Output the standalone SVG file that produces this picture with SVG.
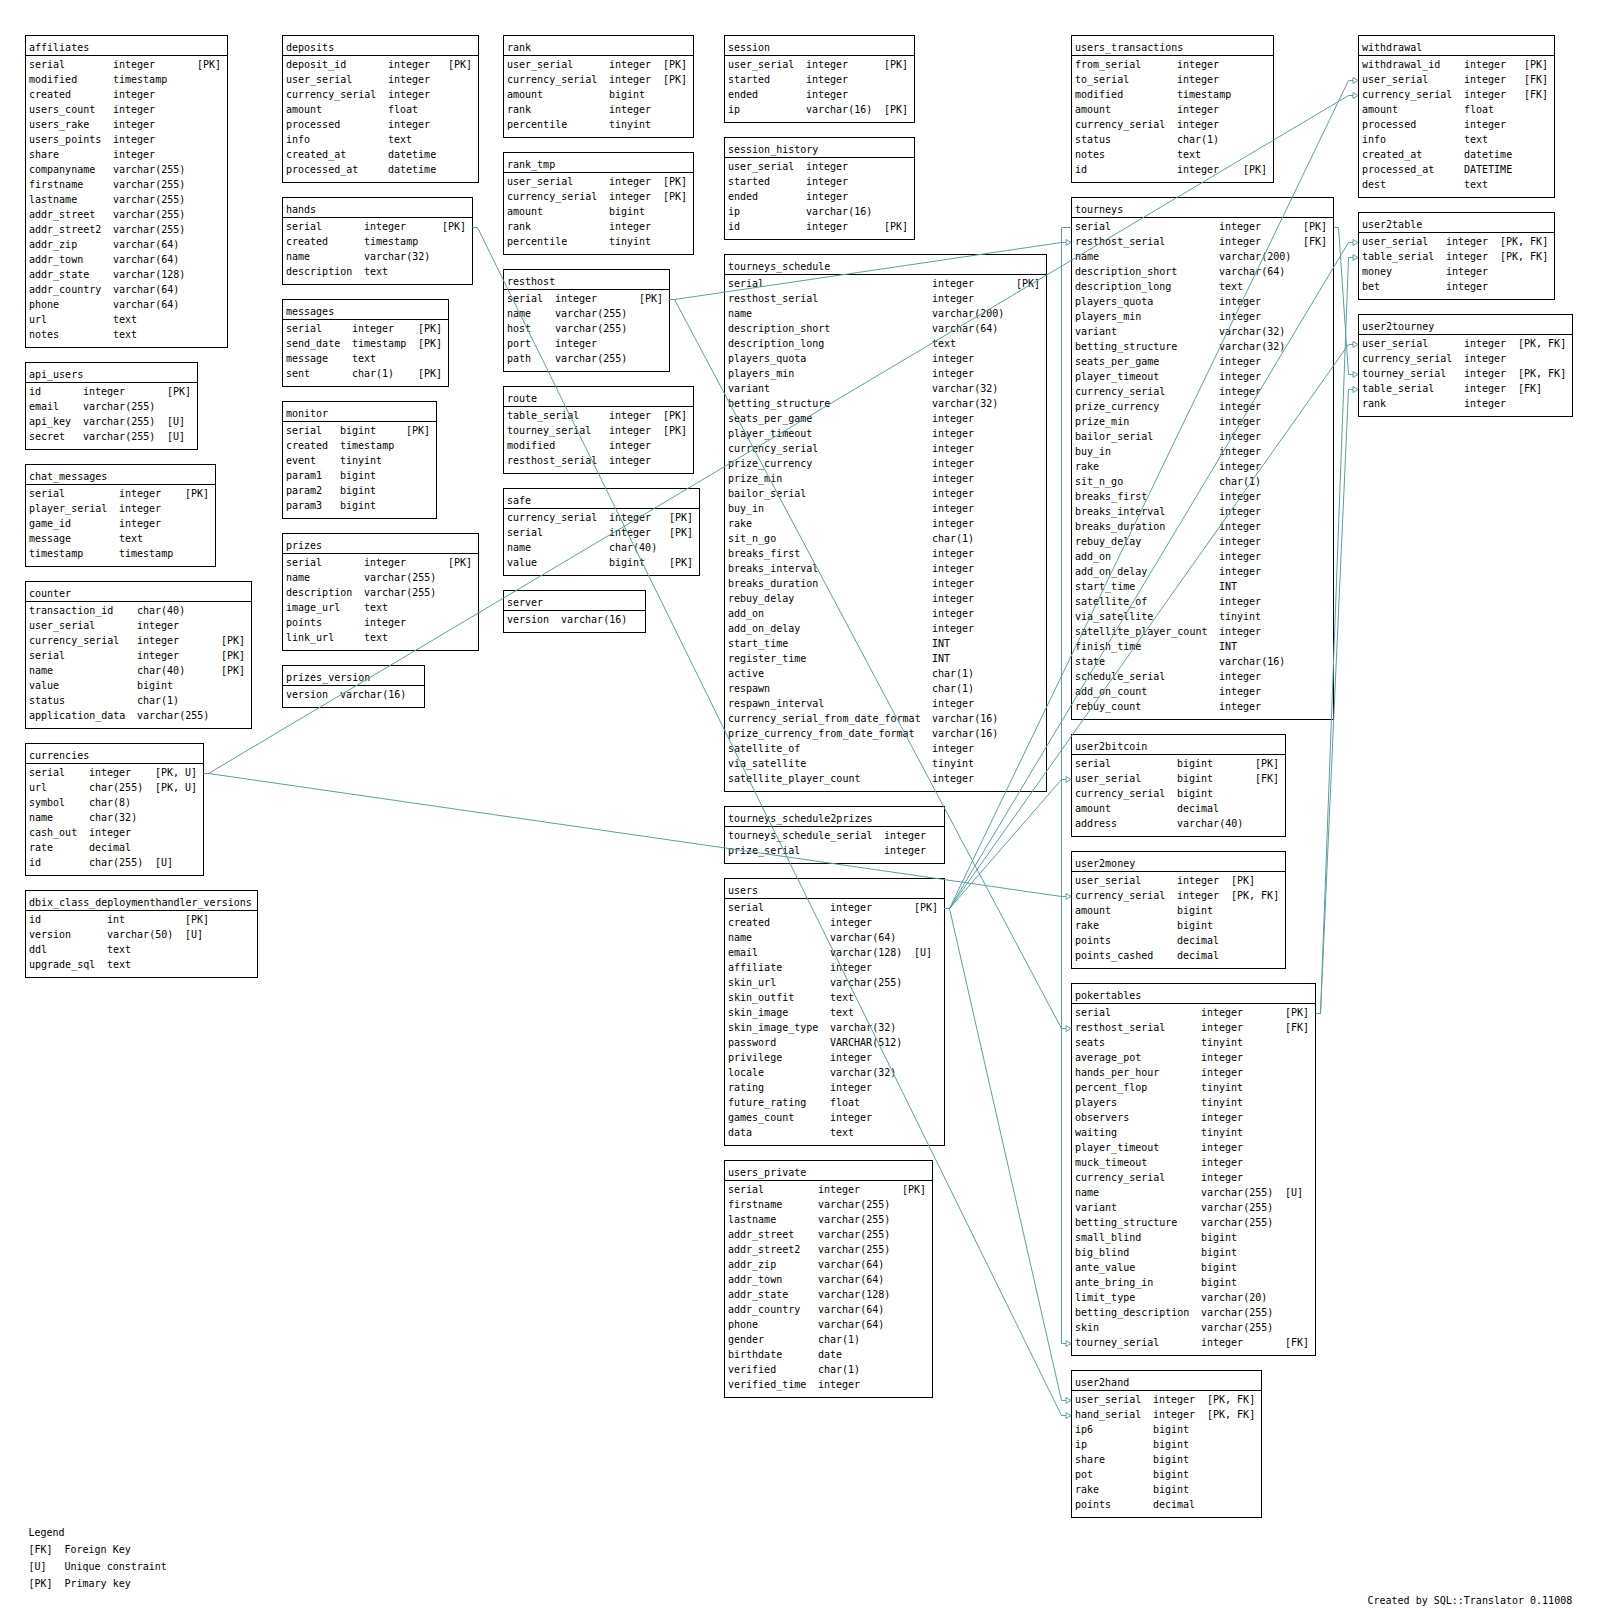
<svg xmlns="http://www.w3.org/2000/svg" width="1602" height="1610" viewBox="0 0 1602 1610">
<style>
.b{fill:none;stroke:#000;stroke-width:1;shape-rendering:crispEdges}
.s{stroke:#000;stroke-width:1;shape-rendering:crispEdges}
text{font-family:"DejaVu Sans Mono","Liberation Mono",monospace;font-size:10px;fill:#000}
.c{fill:none;stroke:#5f9ea0;stroke-width:1;marker-end:url(#arr)}
</style>
<defs>
<marker id="arr" markerUnits="userSpaceOnUse" markerWidth="8" markerHeight="8" refX="6" refY="4" orient="auto" overflow="visible">
<path d="M1,1 L6,4 L1,7 Z" fill="#fff" stroke="#5f9ea0" stroke-width="1"/>
</marker>
</defs>
<rect x="0" y="0" width="1602" height="1610" fill="#fff"/>

<g id="affiliates">
<rect class="b" x="25.5" y="35.5" width="202" height="312"/>
<line class="s" x1="25.5" y1="55.5" x2="227.5" y2="55.5"/>
<text x="29" y="51">affiliates</text>
<text y="68"><tspan x="29">serial</tspan><tspan x="113">integer</tspan><tspan x="197">[PK]</tspan></text>
<text y="83"><tspan x="29">modified</tspan><tspan x="113">timestamp</tspan></text>
<text y="98"><tspan x="29">created</tspan><tspan x="113">integer</tspan></text>
<text y="113"><tspan x="29">users_count</tspan><tspan x="113">integer</tspan></text>
<text y="128"><tspan x="29">users_rake</tspan><tspan x="113">integer</tspan></text>
<text y="143"><tspan x="29">users_points</tspan><tspan x="113">integer</tspan></text>
<text y="158"><tspan x="29">share</tspan><tspan x="113">integer</tspan></text>
<text y="173"><tspan x="29">companyname</tspan><tspan x="113">varchar(255)</tspan></text>
<text y="188"><tspan x="29">firstname</tspan><tspan x="113">varchar(255)</tspan></text>
<text y="203"><tspan x="29">lastname</tspan><tspan x="113">varchar(255)</tspan></text>
<text y="218"><tspan x="29">addr_street</tspan><tspan x="113">varchar(255)</tspan></text>
<text y="233"><tspan x="29">addr_street2</tspan><tspan x="113">varchar(255)</tspan></text>
<text y="248"><tspan x="29">addr_zip</tspan><tspan x="113">varchar(64)</tspan></text>
<text y="263"><tspan x="29">addr_town</tspan><tspan x="113">varchar(64)</tspan></text>
<text y="278"><tspan x="29">addr_state</tspan><tspan x="113">varchar(128)</tspan></text>
<text y="293"><tspan x="29">addr_country</tspan><tspan x="113">varchar(64)</tspan></text>
<text y="308"><tspan x="29">phone</tspan><tspan x="113">varchar(64)</tspan></text>
<text y="323"><tspan x="29">url</tspan><tspan x="113">text</tspan></text>
<text y="338"><tspan x="29">notes</tspan><tspan x="113">text</tspan></text>
</g>

<g id="api_users">
<rect class="b" x="25.5" y="362.5" width="172" height="87"/>
<line class="s" x1="25.5" y1="382.5" x2="197.5" y2="382.5"/>
<text x="29" y="378">api_users</text>
<text y="395"><tspan x="29">id</tspan><tspan x="83">integer</tspan><tspan x="167">[PK]</tspan></text>
<text y="410"><tspan x="29">email</tspan><tspan x="83">varchar(255)</tspan></text>
<text y="425"><tspan x="29">api_key</tspan><tspan x="83">varchar(255)</tspan><tspan x="167">[U]</tspan></text>
<text y="440"><tspan x="29">secret</tspan><tspan x="83">varchar(255)</tspan><tspan x="167">[U]</tspan></text>
</g>

<g id="chat_messages">
<rect class="b" x="25.5" y="464.5" width="190" height="102"/>
<line class="s" x1="25.5" y1="484.5" x2="215.5" y2="484.5"/>
<text x="29" y="480">chat_messages</text>
<text y="497"><tspan x="29">serial</tspan><tspan x="119">integer</tspan><tspan x="185">[PK]</tspan></text>
<text y="512"><tspan x="29">player_serial</tspan><tspan x="119">integer</tspan></text>
<text y="527"><tspan x="29">game_id</tspan><tspan x="119">integer</tspan></text>
<text y="542"><tspan x="29">message</tspan><tspan x="119">text</tspan></text>
<text y="557"><tspan x="29">timestamp</tspan><tspan x="119">timestamp</tspan></text>
</g>

<g id="counter">
<rect class="b" x="25.5" y="581.5" width="226" height="147"/>
<line class="s" x1="25.5" y1="601.5" x2="251.5" y2="601.5"/>
<text x="29" y="597">counter</text>
<text y="614"><tspan x="29">transaction_id</tspan><tspan x="137">char(40)</tspan></text>
<text y="629"><tspan x="29">user_serial</tspan><tspan x="137">integer</tspan></text>
<text y="644"><tspan x="29">currency_serial</tspan><tspan x="137">integer</tspan><tspan x="221">[PK]</tspan></text>
<text y="659"><tspan x="29">serial</tspan><tspan x="137">integer</tspan><tspan x="221">[PK]</tspan></text>
<text y="674"><tspan x="29">name</tspan><tspan x="137">char(40)</tspan><tspan x="221">[PK]</tspan></text>
<text y="689"><tspan x="29">value</tspan><tspan x="137">bigint</tspan></text>
<text y="704"><tspan x="29">status</tspan><tspan x="137">char(1)</tspan></text>
<text y="719"><tspan x="29">application_data</tspan><tspan x="137">varchar(255)</tspan></text>
</g>

<g id="currencies">
<rect class="b" x="25.5" y="743.5" width="178" height="132"/>
<line class="s" x1="25.5" y1="763.5" x2="203.5" y2="763.5"/>
<text x="29" y="759">currencies</text>
<text y="776"><tspan x="29">serial</tspan><tspan x="89">integer</tspan><tspan x="155">[PK, U]</tspan></text>
<text y="791"><tspan x="29">url</tspan><tspan x="89">char(255)</tspan><tspan x="155">[PK, U]</tspan></text>
<text y="806"><tspan x="29">symbol</tspan><tspan x="89">char(8)</tspan></text>
<text y="821"><tspan x="29">name</tspan><tspan x="89">char(32)</tspan></text>
<text y="836"><tspan x="29">cash_out</tspan><tspan x="89">integer</tspan></text>
<text y="851"><tspan x="29">rate</tspan><tspan x="89">decimal</tspan></text>
<text y="866"><tspan x="29">id</tspan><tspan x="89">char(255)</tspan><tspan x="155">[U]</tspan></text>
</g>

<g id="dbix_class_deploymenthandler_versions">
<rect class="b" x="25.5" y="890.5" width="232" height="87"/>
<line class="s" x1="25.5" y1="910.5" x2="257.5" y2="910.5"/>
<text x="29" y="906">dbix_class_deploymenthandler_versions</text>
<text y="923"><tspan x="29">id</tspan><tspan x="107">int</tspan><tspan x="185">[PK]</tspan></text>
<text y="938"><tspan x="29">version</tspan><tspan x="107">varchar(50)</tspan><tspan x="185">[U]</tspan></text>
<text y="953"><tspan x="29">ddl</tspan><tspan x="107">text</tspan></text>
<text y="968"><tspan x="29">upgrade_sql</tspan><tspan x="107">text</tspan></text>
</g>

<g id="deposits">
<rect class="b" x="282.5" y="35.5" width="196" height="147"/>
<line class="s" x1="282.5" y1="55.5" x2="478.5" y2="55.5"/>
<text x="286" y="51">deposits</text>
<text y="68"><tspan x="286">deposit_id</tspan><tspan x="388">integer</tspan><tspan x="448">[PK]</tspan></text>
<text y="83"><tspan x="286">user_serial</tspan><tspan x="388">integer</tspan></text>
<text y="98"><tspan x="286">currency_serial</tspan><tspan x="388">integer</tspan></text>
<text y="113"><tspan x="286">amount</tspan><tspan x="388">float</tspan></text>
<text y="128"><tspan x="286">processed</tspan><tspan x="388">integer</tspan></text>
<text y="143"><tspan x="286">info</tspan><tspan x="388">text</tspan></text>
<text y="158"><tspan x="286">created_at</tspan><tspan x="388">datetime</tspan></text>
<text y="173"><tspan x="286">processed_at</tspan><tspan x="388">datetime</tspan></text>
</g>

<g id="hands">
<rect class="b" x="282.5" y="197.5" width="190" height="87"/>
<line class="s" x1="282.5" y1="217.5" x2="472.5" y2="217.5"/>
<text x="286" y="213">hands</text>
<text y="230"><tspan x="286">serial</tspan><tspan x="364">integer</tspan><tspan x="442">[PK]</tspan></text>
<text y="245"><tspan x="286">created</tspan><tspan x="364">timestamp</tspan></text>
<text y="260"><tspan x="286">name</tspan><tspan x="364">varchar(32)</tspan></text>
<text y="275"><tspan x="286">description</tspan><tspan x="364">text</tspan></text>
</g>

<g id="messages">
<rect class="b" x="282.5" y="299.5" width="166" height="87"/>
<line class="s" x1="282.5" y1="319.5" x2="448.5" y2="319.5"/>
<text x="286" y="315">messages</text>
<text y="332"><tspan x="286">serial</tspan><tspan x="352">integer</tspan><tspan x="418">[PK]</tspan></text>
<text y="347"><tspan x="286">send_date</tspan><tspan x="352">timestamp</tspan><tspan x="418">[PK]</tspan></text>
<text y="362"><tspan x="286">message</tspan><tspan x="352">text</tspan></text>
<text y="377"><tspan x="286">sent</tspan><tspan x="352">char(1)</tspan><tspan x="418">[PK]</tspan></text>
</g>

<g id="monitor">
<rect class="b" x="282.5" y="401.5" width="154" height="117"/>
<line class="s" x1="282.5" y1="421.5" x2="436.5" y2="421.5"/>
<text x="286" y="417">monitor</text>
<text y="434"><tspan x="286">serial</tspan><tspan x="340">bigint</tspan><tspan x="406">[PK]</tspan></text>
<text y="449"><tspan x="286">created</tspan><tspan x="340">timestamp</tspan></text>
<text y="464"><tspan x="286">event</tspan><tspan x="340">tinyint</tspan></text>
<text y="479"><tspan x="286">param1</tspan><tspan x="340">bigint</tspan></text>
<text y="494"><tspan x="286">param2</tspan><tspan x="340">bigint</tspan></text>
<text y="509"><tspan x="286">param3</tspan><tspan x="340">bigint</tspan></text>
</g>

<g id="prizes">
<rect class="b" x="282.5" y="533.5" width="196" height="117"/>
<line class="s" x1="282.5" y1="553.5" x2="478.5" y2="553.5"/>
<text x="286" y="549">prizes</text>
<text y="566"><tspan x="286">serial</tspan><tspan x="364">integer</tspan><tspan x="448">[PK]</tspan></text>
<text y="581"><tspan x="286">name</tspan><tspan x="364">varchar(255)</tspan></text>
<text y="596"><tspan x="286">description</tspan><tspan x="364">varchar(255)</tspan></text>
<text y="611"><tspan x="286">image_url</tspan><tspan x="364">text</tspan></text>
<text y="626"><tspan x="286">points</tspan><tspan x="364">integer</tspan></text>
<text y="641"><tspan x="286">link_url</tspan><tspan x="364">text</tspan></text>
</g>

<g id="prizes_version">
<rect class="b" x="282.5" y="665.5" width="142" height="42"/>
<line class="s" x1="282.5" y1="685.5" x2="424.5" y2="685.5"/>
<text x="286" y="681">prizes_version</text>
<text y="698"><tspan x="286">version</tspan><tspan x="340">varchar(16)</tspan></text>
</g>

<g id="rank">
<rect class="b" x="503.5" y="35.5" width="190" height="102"/>
<line class="s" x1="503.5" y1="55.5" x2="693.5" y2="55.5"/>
<text x="507" y="51">rank</text>
<text y="68"><tspan x="507">user_serial</tspan><tspan x="609">integer</tspan><tspan x="663">[PK]</tspan></text>
<text y="83"><tspan x="507">currency_serial</tspan><tspan x="609">integer</tspan><tspan x="663">[PK]</tspan></text>
<text y="98"><tspan x="507">amount</tspan><tspan x="609">bigint</tspan></text>
<text y="113"><tspan x="507">rank</tspan><tspan x="609">integer</tspan></text>
<text y="128"><tspan x="507">percentile</tspan><tspan x="609">tinyint</tspan></text>
</g>

<g id="rank_tmp">
<rect class="b" x="503.5" y="152.5" width="190" height="102"/>
<line class="s" x1="503.5" y1="172.5" x2="693.5" y2="172.5"/>
<text x="507" y="168">rank_tmp</text>
<text y="185"><tspan x="507">user_serial</tspan><tspan x="609">integer</tspan><tspan x="663">[PK]</tspan></text>
<text y="200"><tspan x="507">currency_serial</tspan><tspan x="609">integer</tspan><tspan x="663">[PK]</tspan></text>
<text y="215"><tspan x="507">amount</tspan><tspan x="609">bigint</tspan></text>
<text y="230"><tspan x="507">rank</tspan><tspan x="609">integer</tspan></text>
<text y="245"><tspan x="507">percentile</tspan><tspan x="609">tinyint</tspan></text>
</g>

<g id="resthost">
<rect class="b" x="503.5" y="269.5" width="166" height="102"/>
<line class="s" x1="503.5" y1="289.5" x2="669.5" y2="289.5"/>
<text x="507" y="285">resthost</text>
<text y="302"><tspan x="507">serial</tspan><tspan x="555">integer</tspan><tspan x="639">[PK]</tspan></text>
<text y="317"><tspan x="507">name</tspan><tspan x="555">varchar(255)</tspan></text>
<text y="332"><tspan x="507">host</tspan><tspan x="555">varchar(255)</tspan></text>
<text y="347"><tspan x="507">port</tspan><tspan x="555">integer</tspan></text>
<text y="362"><tspan x="507">path</tspan><tspan x="555">varchar(255)</tspan></text>
</g>

<g id="route">
<rect class="b" x="503.5" y="386.5" width="190" height="87"/>
<line class="s" x1="503.5" y1="406.5" x2="693.5" y2="406.5"/>
<text x="507" y="402">route</text>
<text y="419"><tspan x="507">table_serial</tspan><tspan x="609">integer</tspan><tspan x="663">[PK]</tspan></text>
<text y="434"><tspan x="507">tourney_serial</tspan><tspan x="609">integer</tspan><tspan x="663">[PK]</tspan></text>
<text y="449"><tspan x="507">modified</tspan><tspan x="609">integer</tspan></text>
<text y="464"><tspan x="507">resthost_serial</tspan><tspan x="609">integer</tspan></text>
</g>

<g id="safe">
<rect class="b" x="503.5" y="488.5" width="196" height="87"/>
<line class="s" x1="503.5" y1="508.5" x2="699.5" y2="508.5"/>
<text x="507" y="504">safe</text>
<text y="521"><tspan x="507">currency_serial</tspan><tspan x="609">integer</tspan><tspan x="669">[PK]</tspan></text>
<text y="536"><tspan x="507">serial</tspan><tspan x="609">integer</tspan><tspan x="669">[PK]</tspan></text>
<text y="551"><tspan x="507">name</tspan><tspan x="609">char(40)</tspan></text>
<text y="566"><tspan x="507">value</tspan><tspan x="609">bigint</tspan><tspan x="669">[PK]</tspan></text>
</g>

<g id="server">
<rect class="b" x="503.5" y="590.5" width="142" height="42"/>
<line class="s" x1="503.5" y1="610.5" x2="645.5" y2="610.5"/>
<text x="507" y="606">server</text>
<text y="623"><tspan x="507">version</tspan><tspan x="561">varchar(16)</tspan></text>
</g>

<g id="session">
<rect class="b" x="724.5" y="35.5" width="190" height="87"/>
<line class="s" x1="724.5" y1="55.5" x2="914.5" y2="55.5"/>
<text x="728" y="51">session</text>
<text y="68"><tspan x="728">user_serial</tspan><tspan x="806">integer</tspan><tspan x="884">[PK]</tspan></text>
<text y="83"><tspan x="728">started</tspan><tspan x="806">integer</tspan></text>
<text y="98"><tspan x="728">ended</tspan><tspan x="806">integer</tspan></text>
<text y="113"><tspan x="728">ip</tspan><tspan x="806">varchar(16)</tspan><tspan x="884">[PK]</tspan></text>
</g>

<g id="session_history">
<rect class="b" x="724.5" y="137.5" width="190" height="102"/>
<line class="s" x1="724.5" y1="157.5" x2="914.5" y2="157.5"/>
<text x="728" y="153">session_history</text>
<text y="170"><tspan x="728">user_serial</tspan><tspan x="806">integer</tspan></text>
<text y="185"><tspan x="728">started</tspan><tspan x="806">integer</tspan></text>
<text y="200"><tspan x="728">ended</tspan><tspan x="806">integer</tspan></text>
<text y="215"><tspan x="728">ip</tspan><tspan x="806">varchar(16)</tspan></text>
<text y="230"><tspan x="728">id</tspan><tspan x="806">integer</tspan><tspan x="884">[PK]</tspan></text>
</g>

<g id="tourneys_schedule">
<rect class="b" x="724.5" y="254.5" width="322" height="537"/>
<line class="s" x1="724.5" y1="274.5" x2="1046.5" y2="274.5"/>
<text x="728" y="270">tourneys_schedule</text>
<text y="287"><tspan x="728">serial</tspan><tspan x="932">integer</tspan><tspan x="1016">[PK]</tspan></text>
<text y="302"><tspan x="728">resthost_serial</tspan><tspan x="932">integer</tspan></text>
<text y="317"><tspan x="728">name</tspan><tspan x="932">varchar(200)</tspan></text>
<text y="332"><tspan x="728">description_short</tspan><tspan x="932">varchar(64)</tspan></text>
<text y="347"><tspan x="728">description_long</tspan><tspan x="932">text</tspan></text>
<text y="362"><tspan x="728">players_quota</tspan><tspan x="932">integer</tspan></text>
<text y="377"><tspan x="728">players_min</tspan><tspan x="932">integer</tspan></text>
<text y="392"><tspan x="728">variant</tspan><tspan x="932">varchar(32)</tspan></text>
<text y="407"><tspan x="728">betting_structure</tspan><tspan x="932">varchar(32)</tspan></text>
<text y="422"><tspan x="728">seats_per_game</tspan><tspan x="932">integer</tspan></text>
<text y="437"><tspan x="728">player_timeout</tspan><tspan x="932">integer</tspan></text>
<text y="452"><tspan x="728">currency_serial</tspan><tspan x="932">integer</tspan></text>
<text y="467"><tspan x="728">prize_currency</tspan><tspan x="932">integer</tspan></text>
<text y="482"><tspan x="728">prize_min</tspan><tspan x="932">integer</tspan></text>
<text y="497"><tspan x="728">bailor_serial</tspan><tspan x="932">integer</tspan></text>
<text y="512"><tspan x="728">buy_in</tspan><tspan x="932">integer</tspan></text>
<text y="527"><tspan x="728">rake</tspan><tspan x="932">integer</tspan></text>
<text y="542"><tspan x="728">sit_n_go</tspan><tspan x="932">char(1)</tspan></text>
<text y="557"><tspan x="728">breaks_first</tspan><tspan x="932">integer</tspan></text>
<text y="572"><tspan x="728">breaks_interval</tspan><tspan x="932">integer</tspan></text>
<text y="587"><tspan x="728">breaks_duration</tspan><tspan x="932">integer</tspan></text>
<text y="602"><tspan x="728">rebuy_delay</tspan><tspan x="932">integer</tspan></text>
<text y="617"><tspan x="728">add_on</tspan><tspan x="932">integer</tspan></text>
<text y="632"><tspan x="728">add_on_delay</tspan><tspan x="932">integer</tspan></text>
<text y="647"><tspan x="728">start_time</tspan><tspan x="932">INT</tspan></text>
<text y="662"><tspan x="728">register_time</tspan><tspan x="932">INT</tspan></text>
<text y="677"><tspan x="728">active</tspan><tspan x="932">char(1)</tspan></text>
<text y="692"><tspan x="728">respawn</tspan><tspan x="932">char(1)</tspan></text>
<text y="707"><tspan x="728">respawn_interval</tspan><tspan x="932">integer</tspan></text>
<text y="722"><tspan x="728">currency_serial_from_date_format</tspan><tspan x="932">varchar(16)</tspan></text>
<text y="737"><tspan x="728">prize_currency_from_date_format</tspan><tspan x="932">varchar(16)</tspan></text>
<text y="752"><tspan x="728">satellite_of</tspan><tspan x="932">integer</tspan></text>
<text y="767"><tspan x="728">via_satellite</tspan><tspan x="932">tinyint</tspan></text>
<text y="782"><tspan x="728">satellite_player_count</tspan><tspan x="932">integer</tspan></text>
</g>

<g id="tourneys_schedule2prizes">
<rect class="b" x="724.5" y="806.5" width="220" height="57"/>
<line class="s" x1="724.5" y1="826.5" x2="944.5" y2="826.5"/>
<text x="728" y="822">tourneys_schedule2prizes</text>
<text y="839"><tspan x="728">tourneys_schedule_serial</tspan><tspan x="884">integer</tspan></text>
<text y="854"><tspan x="728">prize_serial</tspan><tspan x="884">integer</tspan></text>
</g>

<g id="users">
<rect class="b" x="724.5" y="878.5" width="220" height="267"/>
<line class="s" x1="724.5" y1="898.5" x2="944.5" y2="898.5"/>
<text x="728" y="894">users</text>
<text y="911"><tspan x="728">serial</tspan><tspan x="830">integer</tspan><tspan x="914">[PK]</tspan></text>
<text y="926"><tspan x="728">created</tspan><tspan x="830">integer</tspan></text>
<text y="941"><tspan x="728">name</tspan><tspan x="830">varchar(64)</tspan></text>
<text y="956"><tspan x="728">email</tspan><tspan x="830">varchar(128)</tspan><tspan x="914">[U]</tspan></text>
<text y="971"><tspan x="728">affiliate</tspan><tspan x="830">integer</tspan></text>
<text y="986"><tspan x="728">skin_url</tspan><tspan x="830">varchar(255)</tspan></text>
<text y="1001"><tspan x="728">skin_outfit</tspan><tspan x="830">text</tspan></text>
<text y="1016"><tspan x="728">skin_image</tspan><tspan x="830">text</tspan></text>
<text y="1031"><tspan x="728">skin_image_type</tspan><tspan x="830">varchar(32)</tspan></text>
<text y="1046"><tspan x="728">password</tspan><tspan x="830">VARCHAR(512)</tspan></text>
<text y="1061"><tspan x="728">privilege</tspan><tspan x="830">integer</tspan></text>
<text y="1076"><tspan x="728">locale</tspan><tspan x="830">varchar(32)</tspan></text>
<text y="1091"><tspan x="728">rating</tspan><tspan x="830">integer</tspan></text>
<text y="1106"><tspan x="728">future_rating</tspan><tspan x="830">float</tspan></text>
<text y="1121"><tspan x="728">games_count</tspan><tspan x="830">integer</tspan></text>
<text y="1136"><tspan x="728">data</tspan><tspan x="830">text</tspan></text>
</g>

<g id="users_private">
<rect class="b" x="724.5" y="1160.5" width="208" height="237"/>
<line class="s" x1="724.5" y1="1180.5" x2="932.5" y2="1180.5"/>
<text x="728" y="1176">users_private</text>
<text y="1193"><tspan x="728">serial</tspan><tspan x="818">integer</tspan><tspan x="902">[PK]</tspan></text>
<text y="1208"><tspan x="728">firstname</tspan><tspan x="818">varchar(255)</tspan></text>
<text y="1223"><tspan x="728">lastname</tspan><tspan x="818">varchar(255)</tspan></text>
<text y="1238"><tspan x="728">addr_street</tspan><tspan x="818">varchar(255)</tspan></text>
<text y="1253"><tspan x="728">addr_street2</tspan><tspan x="818">varchar(255)</tspan></text>
<text y="1268"><tspan x="728">addr_zip</tspan><tspan x="818">varchar(64)</tspan></text>
<text y="1283"><tspan x="728">addr_town</tspan><tspan x="818">varchar(64)</tspan></text>
<text y="1298"><tspan x="728">addr_state</tspan><tspan x="818">varchar(128)</tspan></text>
<text y="1313"><tspan x="728">addr_country</tspan><tspan x="818">varchar(64)</tspan></text>
<text y="1328"><tspan x="728">phone</tspan><tspan x="818">varchar(64)</tspan></text>
<text y="1343"><tspan x="728">gender</tspan><tspan x="818">char(1)</tspan></text>
<text y="1358"><tspan x="728">birthdate</tspan><tspan x="818">date</tspan></text>
<text y="1373"><tspan x="728">verified</tspan><tspan x="818">char(1)</tspan></text>
<text y="1388"><tspan x="728">verified_time</tspan><tspan x="818">integer</tspan></text>
</g>

<g id="users_transactions">
<rect class="b" x="1071.5" y="35.5" width="202" height="147"/>
<line class="s" x1="1071.5" y1="55.5" x2="1273.5" y2="55.5"/>
<text x="1075" y="51">users_transactions</text>
<text y="68"><tspan x="1075">from_serial</tspan><tspan x="1177">integer</tspan></text>
<text y="83"><tspan x="1075">to_serial</tspan><tspan x="1177">integer</tspan></text>
<text y="98"><tspan x="1075">modified</tspan><tspan x="1177">timestamp</tspan></text>
<text y="113"><tspan x="1075">amount</tspan><tspan x="1177">integer</tspan></text>
<text y="128"><tspan x="1075">currency_serial</tspan><tspan x="1177">integer</tspan></text>
<text y="143"><tspan x="1075">status</tspan><tspan x="1177">char(1)</tspan></text>
<text y="158"><tspan x="1075">notes</tspan><tspan x="1177">text</tspan></text>
<text y="173"><tspan x="1075">id</tspan><tspan x="1177">integer</tspan><tspan x="1243">[PK]</tspan></text>
</g>

<g id="tourneys">
<rect class="b" x="1071.5" y="197.5" width="262" height="522"/>
<line class="s" x1="1071.5" y1="217.5" x2="1333.5" y2="217.5"/>
<text x="1075" y="213">tourneys</text>
<text y="230"><tspan x="1075">serial</tspan><tspan x="1219">integer</tspan><tspan x="1303">[PK]</tspan></text>
<text y="245"><tspan x="1075">resthost_serial</tspan><tspan x="1219">integer</tspan><tspan x="1303">[FK]</tspan></text>
<text y="260"><tspan x="1075">name</tspan><tspan x="1219">varchar(200)</tspan></text>
<text y="275"><tspan x="1075">description_short</tspan><tspan x="1219">varchar(64)</tspan></text>
<text y="290"><tspan x="1075">description_long</tspan><tspan x="1219">text</tspan></text>
<text y="305"><tspan x="1075">players_quota</tspan><tspan x="1219">integer</tspan></text>
<text y="320"><tspan x="1075">players_min</tspan><tspan x="1219">integer</tspan></text>
<text y="335"><tspan x="1075">variant</tspan><tspan x="1219">varchar(32)</tspan></text>
<text y="350"><tspan x="1075">betting_structure</tspan><tspan x="1219">varchar(32)</tspan></text>
<text y="365"><tspan x="1075">seats_per_game</tspan><tspan x="1219">integer</tspan></text>
<text y="380"><tspan x="1075">player_timeout</tspan><tspan x="1219">integer</tspan></text>
<text y="395"><tspan x="1075">currency_serial</tspan><tspan x="1219">integer</tspan></text>
<text y="410"><tspan x="1075">prize_currency</tspan><tspan x="1219">integer</tspan></text>
<text y="425"><tspan x="1075">prize_min</tspan><tspan x="1219">integer</tspan></text>
<text y="440"><tspan x="1075">bailor_serial</tspan><tspan x="1219">integer</tspan></text>
<text y="455"><tspan x="1075">buy_in</tspan><tspan x="1219">integer</tspan></text>
<text y="470"><tspan x="1075">rake</tspan><tspan x="1219">integer</tspan></text>
<text y="485"><tspan x="1075">sit_n_go</tspan><tspan x="1219">char(1)</tspan></text>
<text y="500"><tspan x="1075">breaks_first</tspan><tspan x="1219">integer</tspan></text>
<text y="515"><tspan x="1075">breaks_interval</tspan><tspan x="1219">integer</tspan></text>
<text y="530"><tspan x="1075">breaks_duration</tspan><tspan x="1219">integer</tspan></text>
<text y="545"><tspan x="1075">rebuy_delay</tspan><tspan x="1219">integer</tspan></text>
<text y="560"><tspan x="1075">add_on</tspan><tspan x="1219">integer</tspan></text>
<text y="575"><tspan x="1075">add_on_delay</tspan><tspan x="1219">integer</tspan></text>
<text y="590"><tspan x="1075">start_time</tspan><tspan x="1219">INT</tspan></text>
<text y="605"><tspan x="1075">satellite_of</tspan><tspan x="1219">integer</tspan></text>
<text y="620"><tspan x="1075">via_satellite</tspan><tspan x="1219">tinyint</tspan></text>
<text y="635"><tspan x="1075">satellite_player_count</tspan><tspan x="1219">integer</tspan></text>
<text y="650"><tspan x="1075">finish_time</tspan><tspan x="1219">INT</tspan></text>
<text y="665"><tspan x="1075">state</tspan><tspan x="1219">varchar(16)</tspan></text>
<text y="680"><tspan x="1075">schedule_serial</tspan><tspan x="1219">integer</tspan></text>
<text y="695"><tspan x="1075">add_on_count</tspan><tspan x="1219">integer</tspan></text>
<text y="710"><tspan x="1075">rebuy_count</tspan><tspan x="1219">integer</tspan></text>
</g>

<g id="user2bitcoin">
<rect class="b" x="1071.5" y="734.5" width="214" height="102"/>
<line class="s" x1="1071.5" y1="754.5" x2="1285.5" y2="754.5"/>
<text x="1075" y="750">user2bitcoin</text>
<text y="767"><tspan x="1075">serial</tspan><tspan x="1177">bigint</tspan><tspan x="1255">[PK]</tspan></text>
<text y="782"><tspan x="1075">user_serial</tspan><tspan x="1177">bigint</tspan><tspan x="1255">[FK]</tspan></text>
<text y="797"><tspan x="1075">currency_serial</tspan><tspan x="1177">bigint</tspan></text>
<text y="812"><tspan x="1075">amount</tspan><tspan x="1177">decimal</tspan></text>
<text y="827"><tspan x="1075">address</tspan><tspan x="1177">varchar(40)</tspan></text>
</g>

<g id="user2money">
<rect class="b" x="1071.5" y="851.5" width="214" height="117"/>
<line class="s" x1="1071.5" y1="871.5" x2="1285.5" y2="871.5"/>
<text x="1075" y="867">user2money</text>
<text y="884"><tspan x="1075">user_serial</tspan><tspan x="1177">integer</tspan><tspan x="1231">[PK]</tspan></text>
<text y="899"><tspan x="1075">currency_serial</tspan><tspan x="1177">integer</tspan><tspan x="1231">[PK, FK]</tspan></text>
<text y="914"><tspan x="1075">amount</tspan><tspan x="1177">bigint</tspan></text>
<text y="929"><tspan x="1075">rake</tspan><tspan x="1177">bigint</tspan></text>
<text y="944"><tspan x="1075">points</tspan><tspan x="1177">decimal</tspan></text>
<text y="959"><tspan x="1075">points_cashed</tspan><tspan x="1177">decimal</tspan></text>
</g>

<g id="pokertables">
<rect class="b" x="1071.5" y="983.5" width="244" height="372"/>
<line class="s" x1="1071.5" y1="1003.5" x2="1315.5" y2="1003.5"/>
<text x="1075" y="999">pokertables</text>
<text y="1016"><tspan x="1075">serial</tspan><tspan x="1201">integer</tspan><tspan x="1285">[PK]</tspan></text>
<text y="1031"><tspan x="1075">resthost_serial</tspan><tspan x="1201">integer</tspan><tspan x="1285">[FK]</tspan></text>
<text y="1046"><tspan x="1075">seats</tspan><tspan x="1201">tinyint</tspan></text>
<text y="1061"><tspan x="1075">average_pot</tspan><tspan x="1201">integer</tspan></text>
<text y="1076"><tspan x="1075">hands_per_hour</tspan><tspan x="1201">integer</tspan></text>
<text y="1091"><tspan x="1075">percent_flop</tspan><tspan x="1201">tinyint</tspan></text>
<text y="1106"><tspan x="1075">players</tspan><tspan x="1201">tinyint</tspan></text>
<text y="1121"><tspan x="1075">observers</tspan><tspan x="1201">integer</tspan></text>
<text y="1136"><tspan x="1075">waiting</tspan><tspan x="1201">tinyint</tspan></text>
<text y="1151"><tspan x="1075">player_timeout</tspan><tspan x="1201">integer</tspan></text>
<text y="1166"><tspan x="1075">muck_timeout</tspan><tspan x="1201">integer</tspan></text>
<text y="1181"><tspan x="1075">currency_serial</tspan><tspan x="1201">integer</tspan></text>
<text y="1196"><tspan x="1075">name</tspan><tspan x="1201">varchar(255)</tspan><tspan x="1285">[U]</tspan></text>
<text y="1211"><tspan x="1075">variant</tspan><tspan x="1201">varchar(255)</tspan></text>
<text y="1226"><tspan x="1075">betting_structure</tspan><tspan x="1201">varchar(255)</tspan></text>
<text y="1241"><tspan x="1075">small_blind</tspan><tspan x="1201">bigint</tspan></text>
<text y="1256"><tspan x="1075">big_blind</tspan><tspan x="1201">bigint</tspan></text>
<text y="1271"><tspan x="1075">ante_value</tspan><tspan x="1201">bigint</tspan></text>
<text y="1286"><tspan x="1075">ante_bring_in</tspan><tspan x="1201">bigint</tspan></text>
<text y="1301"><tspan x="1075">limit_type</tspan><tspan x="1201">varchar(20)</tspan></text>
<text y="1316"><tspan x="1075">betting_description</tspan><tspan x="1201">varchar(255)</tspan></text>
<text y="1331"><tspan x="1075">skin</tspan><tspan x="1201">varchar(255)</tspan></text>
<text y="1346"><tspan x="1075">tourney_serial</tspan><tspan x="1201">integer</tspan><tspan x="1285">[FK]</tspan></text>
</g>

<g id="user2hand">
<rect class="b" x="1071.5" y="1370.5" width="190" height="147"/>
<line class="s" x1="1071.5" y1="1390.5" x2="1261.5" y2="1390.5"/>
<text x="1075" y="1386">user2hand</text>
<text y="1403"><tspan x="1075">user_serial</tspan><tspan x="1153">integer</tspan><tspan x="1207">[PK, FK]</tspan></text>
<text y="1418"><tspan x="1075">hand_serial</tspan><tspan x="1153">integer</tspan><tspan x="1207">[PK, FK]</tspan></text>
<text y="1433"><tspan x="1075">ip6</tspan><tspan x="1153">bigint</tspan></text>
<text y="1448"><tspan x="1075">ip</tspan><tspan x="1153">bigint</tspan></text>
<text y="1463"><tspan x="1075">share</tspan><tspan x="1153">bigint</tspan></text>
<text y="1478"><tspan x="1075">pot</tspan><tspan x="1153">bigint</tspan></text>
<text y="1493"><tspan x="1075">rake</tspan><tspan x="1153">bigint</tspan></text>
<text y="1508"><tspan x="1075">points</tspan><tspan x="1153">decimal</tspan></text>
</g>

<g id="withdrawal">
<rect class="b" x="1358.5" y="35.5" width="196" height="162"/>
<line class="s" x1="1358.5" y1="55.5" x2="1554.5" y2="55.5"/>
<text x="1362" y="51">withdrawal</text>
<text y="68"><tspan x="1362">withdrawal_id</tspan><tspan x="1464">integer</tspan><tspan x="1524">[PK]</tspan></text>
<text y="83"><tspan x="1362">user_serial</tspan><tspan x="1464">integer</tspan><tspan x="1524">[FK]</tspan></text>
<text y="98"><tspan x="1362">currency_serial</tspan><tspan x="1464">integer</tspan><tspan x="1524">[FK]</tspan></text>
<text y="113"><tspan x="1362">amount</tspan><tspan x="1464">float</tspan></text>
<text y="128"><tspan x="1362">processed</tspan><tspan x="1464">integer</tspan></text>
<text y="143"><tspan x="1362">info</tspan><tspan x="1464">text</tspan></text>
<text y="158"><tspan x="1362">created_at</tspan><tspan x="1464">datetime</tspan></text>
<text y="173"><tspan x="1362">processed_at</tspan><tspan x="1464">DATETIME</tspan></text>
<text y="188"><tspan x="1362">dest</tspan><tspan x="1464">text</tspan></text>
</g>

<g id="user2table">
<rect class="b" x="1358.5" y="212.5" width="196" height="87"/>
<line class="s" x1="1358.5" y1="232.5" x2="1554.5" y2="232.5"/>
<text x="1362" y="228">user2table</text>
<text y="245"><tspan x="1362">user_serial</tspan><tspan x="1446">integer</tspan><tspan x="1500">[PK, FK]</tspan></text>
<text y="260"><tspan x="1362">table_serial</tspan><tspan x="1446">integer</tspan><tspan x="1500">[PK, FK]</tspan></text>
<text y="275"><tspan x="1362">money</tspan><tspan x="1446">integer</tspan></text>
<text y="290"><tspan x="1362">bet</tspan><tspan x="1446">integer</tspan></text>
</g>

<g id="user2tourney">
<rect class="b" x="1358.5" y="314.5" width="214" height="102"/>
<line class="s" x1="1358.5" y1="334.5" x2="1572.5" y2="334.5"/>
<text x="1362" y="330">user2tourney</text>
<text y="347"><tspan x="1362">user_serial</tspan><tspan x="1464">integer</tspan><tspan x="1518">[PK, FK]</tspan></text>
<text y="362"><tspan x="1362">currency_serial</tspan><tspan x="1464">integer</tspan></text>
<text y="377"><tspan x="1362">tourney_serial</tspan><tspan x="1464">integer</tspan><tspan x="1518">[PK, FK]</tspan></text>
<text y="392"><tspan x="1362">table_serial</tspan><tspan x="1464">integer</tspan><tspan x="1518">[FK]</tspan></text>
<text y="407"><tspan x="1362">rank</tspan><tspan x="1464">integer</tspan></text>
</g>

<g id="connectors">
<path class="c" d="M669.5,299.5 H674.5 L1061.5,242.5 H1071"/>
<path class="c" d="M669.5,299.5 H674.5 L1061.5,1028.5 H1071"/>
<path class="c" d="M472.5,227.5 H477.5 L1061.5,1415.5 H1071"/>
<path class="c" d="M203.5,773.5 H208.5 L1348.5,95.5 H1358"/>
<path class="c" d="M203.5,773.5 H208.5 L1061.5,896.5 H1071"/>
<path class="c" d="M944.5,908.5 H949.5 L1348.5,80.5 H1358"/>
<path class="c" d="M944.5,908.5 H949.5 L1348.5,242.5 H1358"/>
<path class="c" d="M944.5,908.5 H949.5 L1348.5,344.5 H1358"/>
<path class="c" d="M944.5,908.5 H949.5 L1061.5,779.5 H1071"/>
<path class="c" d="M944.5,908.5 H949.5 L1061.5,1400.5 H1071"/>
<path class="c" d="M1333.5,227.5 H1338.5 L1348.5,374.5 H1358"/>
<path class="c" d="M1071.5,227.5 H1061.5 V1343.5 H1071"/>
<path class="c" d="M1315.5,1013.5 H1320.5 L1348.5,257.5 H1358"/>
<path class="c" d="M1315.5,1013.5 H1320.5 L1348.5,389.5 H1358"/>
</g>

<g id="legend">
<text x="28.5" y="1536">Legend</text>
<text x="28.5" y="1553">[FK]</text><text x="64.5" y="1553">Foreign Key</text>
<text x="28.5" y="1570">[U]</text><text x="64.5" y="1570">Unique constraint</text>
<text x="28.5" y="1587">[PK]</text><text x="64.5" y="1587">Primary key</text>
</g>
<text x="1367.5" y="1603.5">Created by SQL::Translator 0.11008</text>
</svg>
